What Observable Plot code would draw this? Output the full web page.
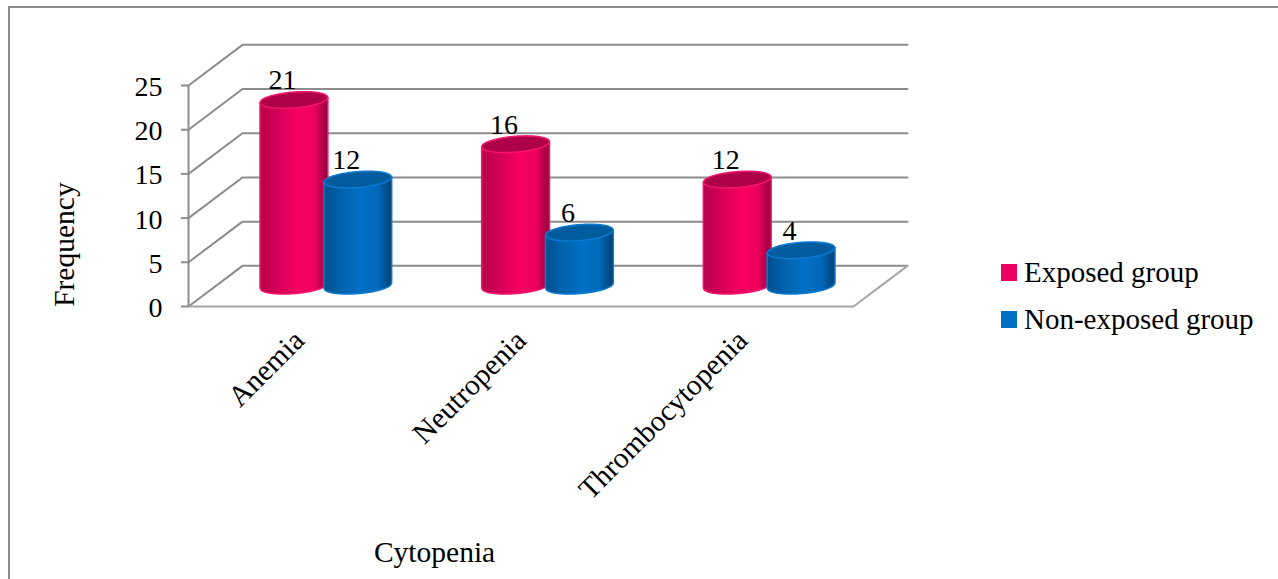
<!DOCTYPE html>
<html>
<head>
<meta charset="utf-8">
<script src="https://cdn.jsdelivr.net/npm/d3@7"></script>
<script src="https://cdn.jsdelivr.net/npm/@observablehq/plot@0.6"></script>
<style>
  html, body { margin: 0; padding: 0; background: #fff; }
  #chart { position: relative; width: 1278px; height: 579px; overflow: hidden; font-family: "Liberation Serif", serif; color: #000; }
  #border { position: absolute; left: 8px; top: 6px; width: 1300px; height: 600px; border: 2px solid #8c8c8c; box-sizing: border-box; }
  #chart svg { position: absolute; left: 0; top: 0; overflow: visible; background: none; }
  #legend { position: absolute; left: 1001px; top: 249px; font-size: 29px; }
  #legend div { display: flex; align-items: center; height: 47px; white-space: nowrap; }
  #legend i { display: inline-block; width: 16px; height: 17px; margin-right: 7px; }
</style>
</head>
<body>
<div id="chart"><div id="border"></div><div id="legend"></div></div>
<script>
// Cytopenia counts for the two study groups
const categories = ["Anemia", "Neutropenia", "Thrombocytopenia"];
const exposed = [21, 16, 12];
const nonExposed = [12, 6, 4];
const groups = ["Exposed group", "Non-exposed group"];
const yTicks = [0, 5, 10, 15, 20, 25];

const colors = {
  "Exposed group": {swatch: "#ee0060", top: "#ad0049", rim: "#f5146e", grad: "pinkSide"},
  "Non-exposed group": {swatch: "#0070c4", top: "#005c9c", rim: "#0a7ad2", grad: "blueSide"}
};

// Oblique projection: one unit of depth moves a point right (in category units) and up (in value units)
const depthX = 0.2436;
const depthY = 4.6;
const project = (c, v, d) => ({x: c + d * depthX, y: v + d * depthY});

// Walls and floor of the 3D box
const gridLines = yTicks.flatMap((v) => [
  {id: v, ...project(0, v, 0)},
  {id: v, ...project(0, v, 1)},
  {id: v, ...project(3, v, 1)}
]);
const floorFront = [project(0, 0, 0), project(3, 0, 0), project(3, 0, 1)];

// Cylinders: outline sampled across the width, sheared slightly to follow the view
const halfWidth = 0.153;
const capHeight = 0.9;
const capSlope = 1.9;
const slotOffset = {"Exposed group": 0.356, "Non-exposed group": 0.644};
const bars = categories.flatMap((cat, i) => [
  {cat, i, group: groups[0], value: exposed[i]},
  {cat, i, group: groups[1], value: nonExposed[i]}
]);
const samples = d3.range(0, 61).map((k) => -1 + k / 30);
function outline(bar, kind) {
  const centre = project(bar.i + slotOffset[bar.group], 0, 0.5);
  return samples.map((u) => {
    const x = centre.x + u * halfWidth;
    const bulge = capHeight * Math.sqrt(Math.max(0, 1 - u * u));
    const tilt = capSlope * u * halfWidth;
    const baseY = centre.y + tilt;
    const topY = baseY + bar.value;
    return kind === "cap"
      ? {x, y1: topY - bulge, y2: topY + bulge}
      : {x, y1: baseY - bulge, y2: topY};
  });
}
const series = (kind) => bars.map((b) => ({bar: b, pts: outline(b, kind)}));

// Gradients for the cylinder sides
function gradients() {
  const ns = "http://www.w3.org/2000/svg";
  const defs = document.createElementNS(ns, "defs");
  const make = (id, stops) => {
    const g = document.createElementNS(ns, "linearGradient");
    g.setAttribute("id", id);
    stops.forEach(([o, c]) => {
      const s = document.createElementNS(ns, "stop");
      s.setAttribute("offset", o);
      s.setAttribute("stop-color", c);
      g.appendChild(s);
    });
    defs.appendChild(g);
  };
  make("pinkSide", [[0, "#b8004c"], [0.2, "#cc0054"], [0.55, "#f80060"], [0.8, "#ee005c"], [1, "#92003e"]]);
  make("blueSide", [[0, "#004f8c"], [0.2, "#005fa8"], [0.55, "#0070c6"], [0.8, "#0068b8"], [1, "#003f72"]]);
  return defs;
}

const textStyle = {fontFamily: "Liberation Serif", fontSize: 29.5, fill: "#000", stroke: null};
const digitStyle = {...textStyle, fontSize: 28};

const sideMarks = series("side").map(({bar, pts}) => {
  const c = colors[bar.group];
  return Plot.areaY(pts, {x: "x", y1: "y1", y2: "y2", fill: `url(#${c.grad})`, stroke: c.rim, strokeWidth: 1.5});
});
const capMarks = series("cap").map(({bar, pts}) => {
  const c = colors[bar.group];
  return Plot.areaY(pts, {x: "x", y1: "y1", y2: "y2", fill: c.top, stroke: c.rim, strokeWidth: 1.5});
});

// Each bar is drawn side first, then cap, so the right-hand cylinder overlaps its neighbour
const cylinderMarks = sideMarks.flatMap((m, i) => [m, capMarks[i]]);

const labels = bars.map((b) => {
  const p = project(b.i + slotOffset[b.group], b.value, 0.5);
  return {...p, text: String(b.value)};
});

const chart = Plot.plot({
  width: 1278,
  height: 579,
  margin: 0,
  style: {background: "none", overflow: "visible"},
  x: {type: "linear", domain: [0, 3], range: [188, 853], axis: null},
  y: {type: "linear", domain: [0, 25], range: [306, 85], axis: null},
  marks: [
    gradients,
    Plot.line(gridLines, {x: "x", y: "y", z: "id", stroke: "#8c8c8c", strokeWidth: 2}),
    Plot.line(floorFront, {x: "x", y: "y", stroke: "#a6a6a6", strokeWidth: 2}),
    Plot.ruleX([0], {y1: 0, y2: 25, stroke: "#8c8c8c", strokeWidth: 2}),
    Plot.ruleY(yTicks, {x1: -0.032, x2: 0, stroke: "#8c8c8c", strokeWidth: 2}),
    Plot.text(yTicks, {x: 0, y: (d) => d, text: (d) => String(d), dx: -26, dy: 1.5, textAnchor: "end", ...digitStyle}),
    ...cylinderMarks,
    Plot.text(labels, {x: "x", y: "y", text: "text", dx: -12, dy: -20, ...digitStyle}),
    Plot.text(categories, {x: (d, i) => i + 0.5, y: 0, text: (d) => d, dx: 0, dy: 29, rotate: -45, textAnchor: "end", ...textStyle}),
    Plot.text(["Frequency"], {x: 0, y: 7, text: (d) => d, dx: -124, rotate: -90, ...textStyle}),
    Plot.text(["Cytopenia"], {x: 1.11, y: 0, text: (d) => d, dy: 246, ...textStyle})
  ]
});
document.getElementById("chart").appendChild(chart);

// Legend entries drawn alongside the plot
const legend = document.getElementById("legend");
groups.forEach((g) => {
  const row = document.createElement("div");
  const sw = document.createElement("i");
  sw.style.background = colors[g].swatch;
  row.appendChild(sw);
  row.appendChild(document.createTextNode(g));
  legend.appendChild(row);
});
</script>
</body>
</html>
